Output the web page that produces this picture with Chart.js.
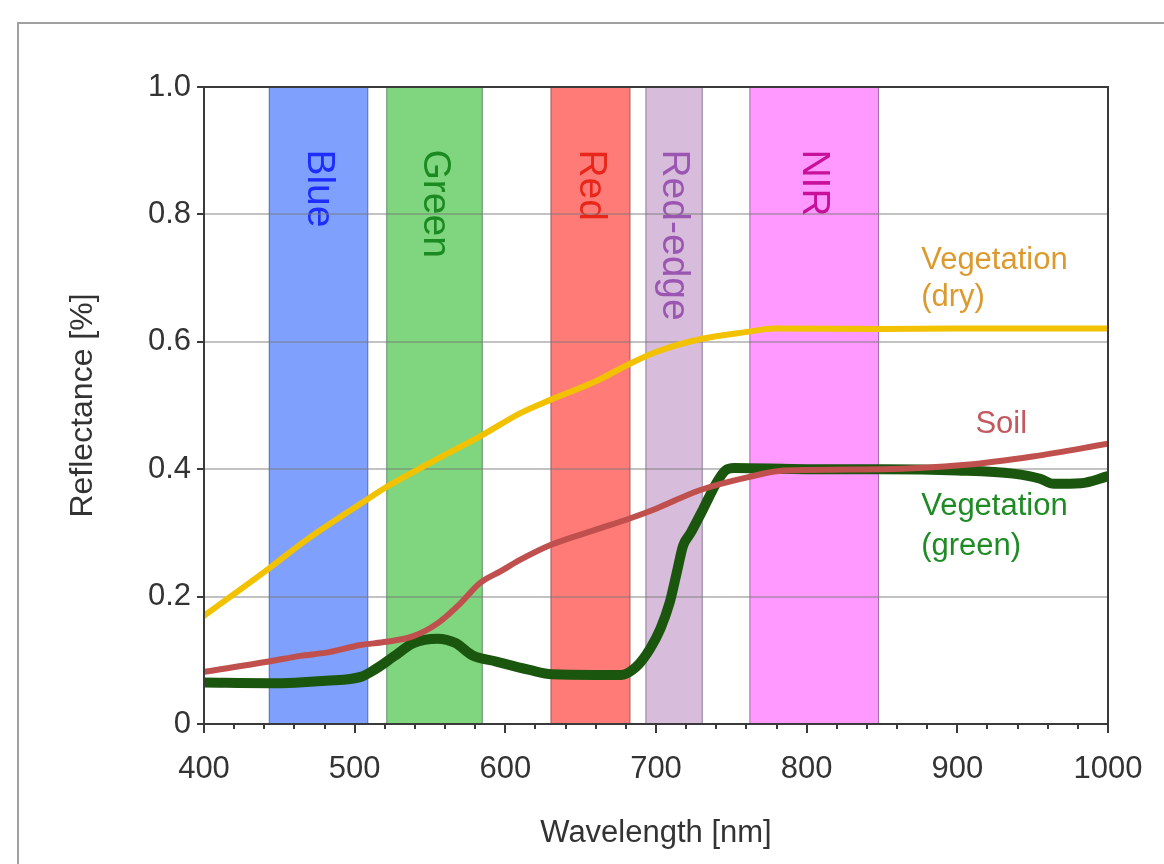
<!DOCTYPE html>
<html>
<head>
<meta charset="utf-8">
<script src="https://cdn.jsdelivr.net/npm/chart.js@4.4.1/dist/chart.umd.min.js"></script>
<style>
  html, body { margin: 0; padding: 0; background: #fff; }
  #wrap { position: relative; width: 1164px; height: 864px; overflow: hidden; }
  #frame { position: absolute; left: 17px; top: 22px; right: -5px; bottom: -5px;
           border-top: 2px solid #a0a0a0; border-left: 2px solid #a0a0a0; }
  canvas { position: absolute; left: 0; top: 0; }
</style>
</head>
<body>
<div id="wrap">
  <div id="frame"></div>
  <canvas id="myChart" width="1164" height="864"></canvas>
</div>
<script>
// spectral reflectance + sensor bands
var FONT = '"Liberation Sans", Arial, Helvetica, sans-serif';

// bands (nm)
var bandNames = ["Blue", "Green", "Red", "Red-edge", "NIR"];
var bandStart = [443, 521, 630, 693, 762];
var bandEnd   = [509, 585, 683, 731, 848];
var bandFill  = ["#7fa0fc", "#7fd67f", "#ff7b78", "#d8bcdc", "#ff99ff"];
var bandText  = ["#1f2cff", "#1b8a22", "#e8261a", "#9a56b0", "#c8109a"];

// vegetation (dry)
var dryWl  = [400, 443, 468, 508, 521, 550, 585, 610, 630, 660, 683, 700, 729, 762, 778, 850, 900, 1000];
var dryVal = [0.170, 0.244, 0.289, 0.352, 0.372, 0.410, 0.454, 0.488, 0.509, 0.538, 0.566, 0.584, 0.604, 0.616, 0.621, 0.620, 0.621, 0.621];

// soil
var soilWl  = [400, 443, 464, 481, 504, 521, 539, 555, 570, 583, 597, 610, 630, 660, 683, 700, 729, 762, 785, 850, 906, 950, 1000];
var soilVal = [0.082, 0.098, 0.107, 0.112, 0.124, 0.129, 0.138, 0.158, 0.189, 0.221, 0.240, 0.258, 0.281, 0.305, 0.323, 0.338, 0.367, 0.388, 0.398, 0.400, 0.407, 0.420, 0.440];

// vegetation (green)
var greenWl  = [400, 443, 481, 504, 513, 526, 539, 555, 567, 578, 594, 616, 631, 660, 677, 687, 696, 703, 709, 714, 718, 723, 731, 740, 746, 752, 800, 850, 900, 937, 955, 964, 982, 1000];
var greenVal = [0.065, 0.064, 0.068, 0.074, 0.085, 0.106, 0.127, 0.134, 0.127, 0.108, 0.098, 0.085, 0.078, 0.077, 0.077, 0.090, 0.118, 0.150, 0.190, 0.240, 0.280, 0.300, 0.336, 0.378, 0.398, 0.402, 0.400, 0.400, 0.398, 0.393, 0.385, 0.377, 0.378, 0.389];

// curve labels
var noteText = ["Vegetation", "(dry)", "Soil", "Vegetation", "(green)"];
var noteX    = [876, 876, 912, 876, 876];
var noteY    = [0.728, 0.670, 0.471, 0.341, 0.279];
var noteCol  = ["#dc9a2e", "#dc9a2e", "#c4585f", "#1e8b24", "#1e8b24"];

function pts(xs, ys) {
    return xs.map(function (v, i) { return {x: v, y: ys[i]}; });
}

var bandsPlugin = {
    id: 'bands',
    beforeDraw: function (chart) {
        var ctx = chart.ctx, x = chart.scales.x, y = chart.scales.y;
        var top = y.getPixelForValue(1), bot = y.getPixelForValue(0);
        ctx.save();
        for (var i = 0; i < bandNames.length; i++) {
            var x0 = x.getPixelForValue(bandStart[i]);
            var x1 = x.getPixelForValue(bandEnd[i]);
            ctx.fillStyle = bandFill[i];
            ctx.fillRect(x0, top, x1 - x0, bot - top);
            ctx.strokeStyle = 'rgba(70,70,90,0.5)';
            ctx.lineWidth = 1;
            ctx.strokeRect(x0 + 0.5, top, x1 - x0 - 1, bot - top);

            ctx.save();
            ctx.translate((x0 + x1) / 2, y.getPixelForValue(0.902));
            ctx.rotate(Math.PI / 2);
            ctx.font = '39px ' + FONT;
            ctx.fillStyle = bandText[i];
            ctx.textAlign = 'left';
            ctx.textBaseline = 'middle';
            ctx.fillText(bandNames[i], 0, 0);
            ctx.restore();
        }
        ctx.restore();
    },
    afterDatasetsDraw: function (chart) {
        var ctx = chart.ctx, x = chart.scales.x, y = chart.scales.y, a = chart.chartArea;
        ctx.save();
        // curve labels
        ctx.font = '31px ' + FONT;
        ctx.textAlign = 'left';
        ctx.textBaseline = 'middle';
        for (var i = 0; i < noteText.length; i++) {
            ctx.fillStyle = noteCol[i];
            ctx.fillText(noteText[i], x.getPixelForValue(noteX[i]), y.getPixelForValue(noteY[i]));
        }
        // plot frame
        ctx.strokeStyle = '#3a3a3a';
        ctx.lineWidth = 2;
        ctx.strokeRect(a.left, a.top, a.right - a.left, a.bottom - a.top);
        // x ticks (major + minor)
        for (var v = 400; v <= 1000; v += 20) {
            var px = Math.round(x.getPixelForValue(v));
            var len = (v % 100 === 0) ? 9 : 5;
            ctx.beginPath();
            ctx.moveTo(px, a.bottom);
            ctx.lineTo(px, a.bottom + len);
            ctx.stroke();
        }
        ctx.restore();
    }
};

var ctx = document.getElementById("myChart");

var myChart = new Chart(ctx, {
    type: 'line',
    data: {
        datasets: [
            {
                label: 'Vegetation (dry)',
                data: pts(dryWl, dryVal),
                borderColor: '#f2c200',
                borderWidth: 6
            },
            {
                label: 'Soil',
                data: pts(soilWl, soilVal),
                borderColor: '#c0504d',
                borderWidth: 6
            },
            {
                label: 'Vegetation (green)',
                data: pts(greenWl, greenVal),
                borderColor: '#1b560e',
                borderWidth: 10
            }
        ]
    },
    options: {
        responsive: false,
        animation: false,
        devicePixelRatio: 1,
        layout: { padding: { left: 0, right: 56, top: 87, bottom: 0 } },
        elements: {
            point: { radius: 0 },
            line: { cubicInterpolationMode: 'monotone', borderCapStyle: 'round', borderJoinStyle: 'round' }
        },
        plugins: {
            legend: { display: false },
            tooltip: { enabled: false }
        },
        scales: {
            x: {
                type: 'linear',
                min: 400,
                max: 1000,
                grid: { display: false, drawTicks: false },
                border: { display: false },
                ticks: {
                    stepSize: 100,
                    autoSkip: false,
                    maxRotation: 0,
                    padding: 27,
                    color: '#333',
                    font: { family: FONT, size: 31 },
                    callback: function (v) { return String(v); }
                },
                title: {
                    display: true,
                    text: 'Wavelength [nm]',
                    color: '#333',
                    font: { family: FONT, size: 31 },
                    padding: { top: 0, bottom: 12 }
                },
                afterFit: function (s) {
                    s.height = 140;
                    s.paddingLeft = 0;
                    s.paddingRight = 0;
                }
            },
            y: {
                min: 0,
                max: 1,
                grid: {
                    color: function (c) {
                        return (c.tick.value === 0 || c.tick.value === 1) ? 'rgba(0,0,0,0)' : 'rgba(120,120,120,0.45)';
                    },
                    lineWidth: 2,
                    tickLength: 7,
                    tickColor: '#3a3a3a',
                    tickWidth: 2
                },
                border: { display: false },
                ticks: {
                    stepSize: 0.2,
                    padding: 6,
                    color: '#333',
                    font: { family: FONT, size: 31 },
                    callback: function (v) { return v === 0 ? '0' : v.toFixed(1); }
                },
                title: {
                    display: true,
                    text: 'Reflectance [%]',
                    color: '#333',
                    font: { family: FONT, size: 32 },
                    padding: { top: 64, bottom: 0 }
                },
                afterFit: function (s) { s.width = 204; }
            }
        }
    },
    plugins: [bandsPlugin]
});
</script>
</body>
</html>
